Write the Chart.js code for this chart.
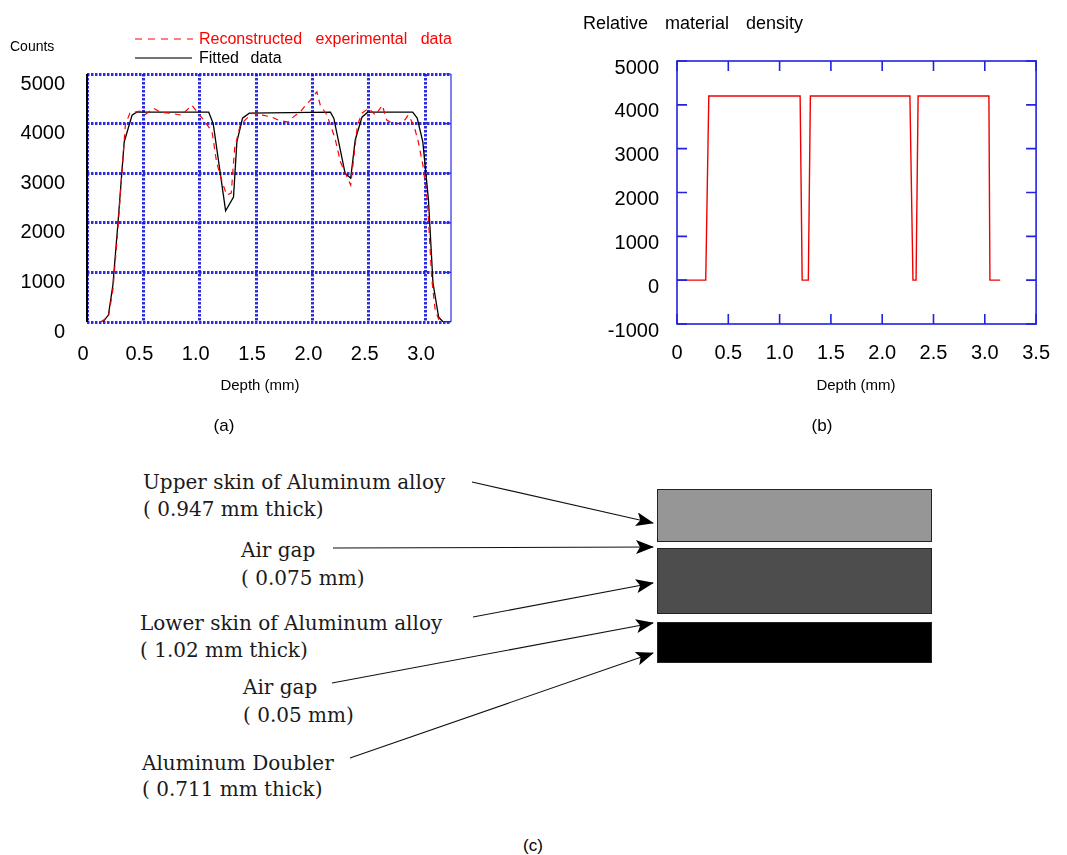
<!DOCTYPE html>
<html>
<head>
<meta charset="utf-8">
<script src="https://cdn.jsdelivr.net/npm/chart.js@4.4.1/dist/chart.umd.min.js"></script>
<style>
  html, body { margin: 0; padding: 0; background: #fff; }
  #page { position: relative; width: 1067px; height: 855px; overflow: hidden;
          font-family: 'Liberation Sans', Arial, sans-serif; color: #000; }
  canvas { position: absolute; }
  .t { position: absolute; white-space: nowrap; line-height: 1; }
  .c { transform: translateX(-50%); }
  .serif { font-family: 'DejaVu Serif', serif; font-size: 20px; color: #1a1a1a; }
  .layer { position: absolute; box-sizing: border-box; border: 1px solid #222; }
  svg { position: absolute; left: 0; top: 0; }
</style>
</head>
<body>
<div id="page">
  <canvas id="chartA" width="470" height="400" style="left:0;top:0"></canvas>
  <canvas id="chartB" width="487" height="400" style="left:580px;top:0"></canvas>

  <!-- (a) texts -->
  <div class="t" style="left:10px;top:39px;font-size:14px">Counts</div>
  <div class="t" style="left:199px;top:31px;font-size:16px;color:#f00;word-spacing:9px">Reconstructed experimental data</div>
  <div class="t" style="left:199px;top:50px;font-size:16px;word-spacing:7px">Fitted data</div>
  <div class="t c" style="left:260px;top:377px;font-size:15px">Depth (mm)</div>
  <div class="t c" style="left:224px;top:417px;font-size:17px">(a)</div>

  <!-- (b) texts -->
  <div class="t" style="left:583px;top:14px;font-size:18px;word-spacing:12px">Relative material density</div>
  <div class="t c" style="left:856px;top:377px;font-size:15px">Depth (mm)</div>
  <div class="t c" style="left:822px;top:417px;font-size:17px">(b)</div>

  <!-- (c) diagram -->
  <div class="layer" style="left:657px;top:489px;width:275px;height:53px;background:#969696"></div>
  <div class="layer" style="left:657px;top:548px;width:275px;height:66px;background:#4d4d4d"></div>
  <div class="layer" style="left:657px;top:622px;width:275px;height:41px;background:#000"></div>

  <div class="t serif" style="left:143px;top:472px">Upper skin of Aluminum alloy</div>
  <div class="t serif" style="left:143px;top:499px">( 0.947 mm thick)</div>
  <div class="t serif" style="left:241px;top:540px">Air gap</div>
  <div class="t serif" style="left:241px;top:568px">( 0.075 mm)</div>
  <div class="t serif" style="left:140px;top:613px">Lower skin of Aluminum alloy</div>
  <div class="t serif" style="left:140px;top:640px">( 1.02 mm thick)</div>
  <div class="t serif" style="left:243px;top:677px">Air gap</div>
  <div class="t serif" style="left:243px;top:705px">( 0.05 mm)</div>
  <div class="t serif" style="left:142px;top:753px">Aluminum Doubler</div>
  <div class="t serif" style="left:142px;top:779px">( 0.711 mm thick)</div>
  <div class="t c" style="left:533px;top:837px;font-size:17px">(c)</div>

  <svg width="1067" height="855">
    <defs>
      <marker id="ah" markerWidth="18" markerHeight="14" refX="17" refY="7" orient="auto" markerUnits="userSpaceOnUse">
        <path d="M0,0 L18,7 L0,14 L4,7 z" fill="#000"/>
      </marker>
    </defs>
    <!-- legend samples for (a) -->
    <line x1="135" y1="39" x2="193" y2="39" stroke="#f00" stroke-width="1.2" stroke-dasharray="7,6"/>
    <line x1="135" y1="58" x2="192" y2="58" stroke="#444" stroke-width="1.5"/>
    <!-- arrows for (c) -->
    <g stroke="#111" stroke-width="1.1" marker-end="url(#ah)">
      <line x1="472" y1="482" x2="653" y2="523"/>
      <line x1="333" y1="548" x2="653" y2="547"/>
      <line x1="473" y1="617" x2="653" y2="583"/>
      <line x1="332" y1="683" x2="653" y2="623"/>
      <line x1="350" y1="758" x2="653" y2="653"/>
    </g>
  </svg>
</div>

<script>
// (a) 计数-深度曲线
const fitDepth  = [0.14, 0.19, 0.23, 0.275, 0.33, 0.40, 0.44, 1.08, 1.12, 1.23, 1.30, 1.33, 1.38, 1.44,
                   2.16, 2.19, 2.29, 2.34, 2.38, 2.44, 2.49, 2.89, 2.93, 2.98, 3.03, 3.07, 3.12, 3.16, 3.23];
const fitCounts = [0, 140, 750, 2000, 3630, 4170, 4230, 4230, 4000, 2240, 2520, 3630, 4110, 4210,
                   4230, 4110, 3000, 2900, 3670, 4130, 4230, 4230, 4110, 3630, 2460, 790, 100, 0, 0];

const expDepth  = [0.12, 0.19, 0.23, 0.27, 0.34, 0.38, 0.47, 0.52, 0.59, 0.65, 0.74, 0.84, 0.93, 1.00,
                   1.05, 1.11, 1.15, 1.20, 1.24, 1.28, 1.31, 1.36, 1.42, 1.47, 1.56, 1.64, 1.70, 1.78,
                   1.85, 1.89, 1.94, 1.98, 2.04, 2.07, 2.13, 2.20, 2.25, 2.29, 2.34, 2.36, 2.40, 2.44,
                   2.50, 2.56, 2.62, 2.66, 2.72, 2.80, 2.85, 2.90, 2.94, 2.98, 3.02, 3.06, 3.09, 3.13, 3.23];
const expCounts = [0, 100, 650, 1750, 3970, 4210, 4250, 4190, 4310, 4230, 4210, 4170, 4370, 4170,
                   4030, 3830, 3220, 2820, 2560, 2600, 3500, 3970, 4110, 4210, 4170, 4130, 4070, 4030,
                   4170, 4230, 4370, 4470, 4640, 4370, 4170, 3710, 3220, 3020, 2760, 3170, 3970, 4210,
                   4310, 4170, 4370, 4070, 3990, 4010, 4170, 3970, 3630, 3170, 2460, 850, 240, 0, 0];

const xTicksA = [0, 0.5, 1.0, 1.5, 2.0, 2.5, 3.0];
const yTicksA = [0, 1000, 2000, 3000, 4000, 5000];

// (b) 相对材料密度
const densDepth = [0, 0.28, 0.31, 1.20, 1.22, 1.28, 1.30, 2.27, 2.30, 2.33, 2.35, 3.04, 3.05, 3.15];
const densValue = [0, 0, 4200, 4200, 0, 0, 4200, 4200, 0, 0, 4200, 4200, 0, 0];

const xTicksB = [0, 0.5, 1.0, 1.5, 2.0, 2.5, 3.0, 3.5];
const yTicksB = [-1000, 0, 1000, 2000, 3000, 4000, 5000];

const toPoints = (xs, ys) => xs.map((x, i) => ({ x: x, y: ys[i] }));
const fmtDepth = v => (v === 0 ? '0' : v.toFixed(1));
const tickFont = { family: "'Liberation Sans', Arial, sans-serif", size: 20 };

// (a) 边框: 左侧黑线, 右侧蓝线和短刻度
const frameA = {
    id: 'frameA',
    afterDraw(chart) {
        const { ctx, chartArea: a, scales } = chart;
        ctx.save();
        ctx.strokeStyle = '#2a2ae6';
        ctx.lineWidth = 1.2;
        ctx.beginPath();
        ctx.moveTo(a.right, a.top);
        ctx.lineTo(a.right, a.bottom);
        scales.y.ticks.forEach(t => {
            const y = scales.y.getPixelForValue(t.value);
            ctx.moveTo(a.right - 7, y);
            ctx.lineTo(a.right, y);
        });
        ctx.stroke();
        ctx.strokeStyle = '#000';
        ctx.lineWidth = 2;
        ctx.beginPath();
        ctx.moveTo(a.left, a.top);
        ctx.lineTo(a.left, a.bottom);
        ctx.stroke();
        ctx.restore();
    }
};

// (b) 边框和四边的内刻度
const frameB = {
    id: 'frameB',
    afterDraw(chart) {
        const { ctx, chartArea: a, scales } = chart;
        const len = 10;
        ctx.save();
        ctx.strokeStyle = '#2222e0';
        ctx.lineWidth = 1.6;
        ctx.strokeRect(a.left, a.top, a.right - a.left, a.bottom - a.top);
        ctx.beginPath();
        scales.x.ticks.forEach(t => {
            const x = scales.x.getPixelForValue(t.value);
            ctx.moveTo(x, a.bottom); ctx.lineTo(x, a.bottom - len);
            ctx.moveTo(x, a.top); ctx.lineTo(x, a.top + len);
        });
        scales.y.ticks.forEach(t => {
            const y = scales.y.getPixelForValue(t.value);
            ctx.moveTo(a.left, y); ctx.lineTo(a.left + len, y);
            ctx.moveTo(a.right, y); ctx.lineTo(a.right - len, y);
        });
        ctx.stroke();
        ctx.restore();
    }
};

function createCountsChart() {
    const gridBlue = 'rgba(22, 22, 215, 0.9)';
    new Chart(document.getElementById('chartA'), {
        type: 'line',
        data: {
            datasets: [{
                label: 'Reconstructed experimental data',
                data: toPoints(expDepth, expCounts),
                borderColor: '#ff0000',
                borderWidth: 1.2,
                borderDash: [6, 5],
                pointRadius: 0,
                tension: 0
            }, {
                label: 'Fitted data',
                data: toPoints(fitDepth, fitCounts),
                borderColor: '#000',
                borderWidth: 1.3,
                pointRadius: 0,
                tension: 0
            }]
        },
        options: {
            responsive: false,
            animation: false,
            layout: { padding: { left: 0, top: 74, right: 19, bottom: 28 } },
            plugins: { legend: { display: false }, tooltip: { enabled: false } },
            scales: {
                x: {
                    type: 'linear',
                    min: 0,
                    max: 3.23,
                    afterBuildTicks: s => { s.ticks = xTicksA.map(v => ({ value: v })); },
                    afterFit: s => { s.height = 50; },
                    grid: { color: gridBlue, lineWidth: 3, drawTicks: false, borderDash: [2.5, 1.5] },
                    border: { display: false, dash: [2.5, 1.5] },
                    ticks: {
                        font: tickFont, color: '#000', padding: 20, labelOffset: -4,
                        autoSkip: false, maxRotation: 0,
                        callback: v => fmtDepth(v)
                    }
                },
                y: {
                    min: 0,
                    max: 5000,
                    afterBuildTicks: s => { s.ticks = yTicksA.map(v => ({ value: v })); },
                    afterFit: s => { s.width = 87; },
                    grid: { color: gridBlue, lineWidth: 3, drawTicks: false, borderDash: [2.5, 1.5] },
                    border: { display: false, dash: [2.5, 1.5] },
                    ticks: {
                        font: tickFont, color: '#000', padding: 22, labelOffset: 10,
                        callback: v => String(v)
                    }
                }
            }
        },
        plugins: [frameA]
    });
}

function createDensityChart() {
    new Chart(document.getElementById('chartB'), {
        type: 'line',
        data: {
            datasets: [{
                label: 'Relative material density',
                data: toPoints(densDepth, densValue),
                borderColor: '#ee0000',
                borderWidth: 1.4,
                pointRadius: 0,
                tension: 0
            }]
        },
        options: {
            responsive: false,
            animation: false,
            layout: { padding: { left: 0, top: 61, right: 25, bottom: 26 } },
            plugins: { legend: { display: false }, tooltip: { enabled: false } },
            scales: {
                x: {
                    type: 'linear',
                    min: 0,
                    max: 3.5,
                    afterBuildTicks: s => { s.ticks = xTicksB.map(v => ({ value: v })); },
                    afterFit: s => { s.height = 50; },
                    grid: { drawOnChartArea: false, drawTicks: false },
                    border: { display: false },
                    ticks: {
                        font: tickFont, color: '#000', padding: 17,
                        autoSkip: false, maxRotation: 0,
                        callback: v => fmtDepth(v)
                    }
                },
                y: {
                    min: -1000,
                    max: 5000,
                    afterBuildTicks: s => { s.ticks = yTicksB.map(v => ({ value: v })); },
                    afterFit: s => { s.width = 97; },
                    grid: { drawOnChartArea: false, drawTicks: false },
                    border: { display: false },
                    ticks: {
                        font: tickFont, color: '#000', padding: 18, labelOffset: 7,
                        callback: v => String(v)
                    }
                }
            }
        },
        plugins: [frameB]
    });
}

createCountsChart();
createDensityChart();
</script>
</body>
</html>
